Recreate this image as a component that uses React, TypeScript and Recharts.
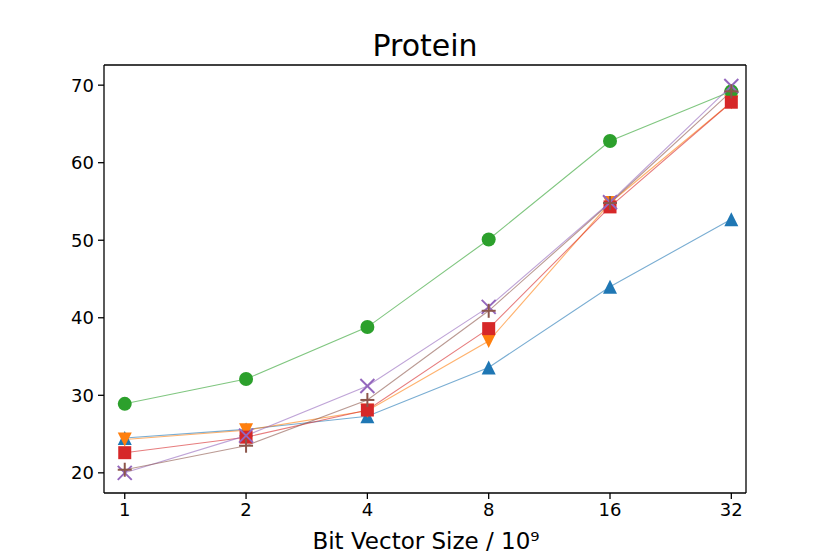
// Protein - bit vector size vs. value, six series with matplotlib-like styling
import React from 'react';
import { LineChart, Line, XAxis, YAxis, ReferenceLine } from 'recharts';

const sizes = [1, 2, 4, 8, 16, 32];
const seriesA = [24.5, 25.6, 27.3, 33.6, 44.0, 52.7];
const seriesB = [24.3, 25.5, 28.0, 37.0, 54.8, 67.8];
const seriesC = [28.9, 32.1, 38.8, 50.1, 62.8, 69.2];
const seriesD = [22.6, 24.6, 28.1, 38.6, 54.3, 67.8];
const seriesE = [20.0, 24.8, 31.2, 41.4, 54.9, 69.9];
const seriesF = [20.4, 23.5, 29.4, 40.9, 54.8, 69.2];
const yTicks = [20, 30, 40, 50, 60, 70];

const data = sizes.map((s, i) => ({
    idx: i,
    size: s,
    a: seriesA[i],
    b: seriesB[i],
    c: seriesC[i],
    d: seriesD[i],
    e: seriesE[i],
    f: seriesF[i],
}));

const FONT = 'DejaVu Sans';
const R = 7;
const X_DOMAIN: [number, number] = [-0.171, 5.121];
const Y_DOMAIN: [number, number] = [17.4, 72.6];

const makeDot = (kind: string, color: string) => (props: any) => {
    const { cx, cy, index } = props;
    if (cx == null || cy == null) return <g key={index} />;
    switch (kind) {
        case 'up':
            return <polygon key={index} points={`${cx},${cy - R} ${cx - R},${cy + R} ${cx + R},${cy + R}`} fill={color} />;
        case 'down':
            return <polygon key={index} points={`${cx},${cy + R} ${cx - R},${cy - R} ${cx + R},${cy - R}`} fill={color} />;
        case 'circle':
            return <circle key={index} cx={cx} cy={cy} r={R} fill={color} />;
        case 'square':
            return <rect key={index} x={cx - 6.5} y={cy - 6.5} width={13} height={13} fill={color} />;
        case 'x':
            return (
                <g key={index} stroke={color} strokeWidth={2}>
                    <line x1={cx - R} y1={cy - R} x2={cx + R} y2={cy + R} />
                    <line x1={cx - R} y1={cy + R} x2={cx + R} y2={cy - R} />
                </g>
            );
        default:
            return (
                <g key={index} stroke={color} strokeWidth={2}>
                    <line x1={cx - R} y1={cy} x2={cx + R} y2={cy} />
                    <line x1={cx} y1={cy - R} x2={cx} y2={cy + R} />
                </g>
            );
    }
};

const series = [
    { key: 'a', color: '#1f77b4', marker: 'up' },
    { key: 'b', color: '#ff7f0e', marker: 'down' },
    { key: 'c', color: '#2ca02c', marker: 'circle' },
    { key: 'd', color: '#d62728', marker: 'square' },
    { key: 'e', color: '#9467bd', marker: 'x' },
    { key: 'f', color: '#8c564b', marker: 'plus' },
];

const tickStyle = { fill: '#000', fontSize: 18, fontFamily: FONT };

export default function App() {
    return (
        <div style={{ position: 'absolute', left: 0, top: 0, width: 830, height: 554, background: '#fff' }}>
            <LineChart width={830} height={554} data={data} margin={{ top: 65, right: 84, bottom: 0, left: 44 }}>
                <text x={425} y={56} textAnchor="middle" fontSize={30} fontFamily={FONT} fill="#000">
                    Protein
                </text>
                <text x={426} y={549} textAnchor="middle" fontSize={23} fontFamily={FONT} fill="#000">
                    Bit Vector Size / 10⁹
                </text>
                <XAxis
                    dataKey="idx"
                    type="number"
                    domain={X_DOMAIN}
                    ticks={[0, 1, 2, 3, 4, 5]}
                    tickFormatter={(v: number) => String(sizes[v])}
                    tick={tickStyle}
                    tickSize={6}
                    tickMargin={4}
                    stroke="#000"
                    strokeWidth={1.3}
                    height={61}
                    allowDataOverflow
                />
                <YAxis
                    type="number"
                    domain={Y_DOMAIN}
                    ticks={yTicks}
                    tick={tickStyle}
                    tickSize={6}
                    tickMargin={4}
                    stroke="#000"
                    strokeWidth={1.3}
                    width={60}
                    allowDataOverflow
                />
                <ReferenceLine y={Y_DOMAIN[1]} stroke="#000" strokeWidth={1.3} ifOverflow="visible" />
                <ReferenceLine x={X_DOMAIN[1]} stroke="#000" strokeWidth={1.3} ifOverflow="visible" />
                {series.map((s) => (
                    <Line
                        key={s.key}
                        dataKey={s.key}
                        stroke={s.color}
                        strokeOpacity={0.6}
                        strokeWidth={1.1}
                        dot={makeDot(s.marker, s.color)}
                        activeDot={false}
                        isAnimationActive={false}
                    />
                ))}
            </LineChart>
        </div>
    );
}
